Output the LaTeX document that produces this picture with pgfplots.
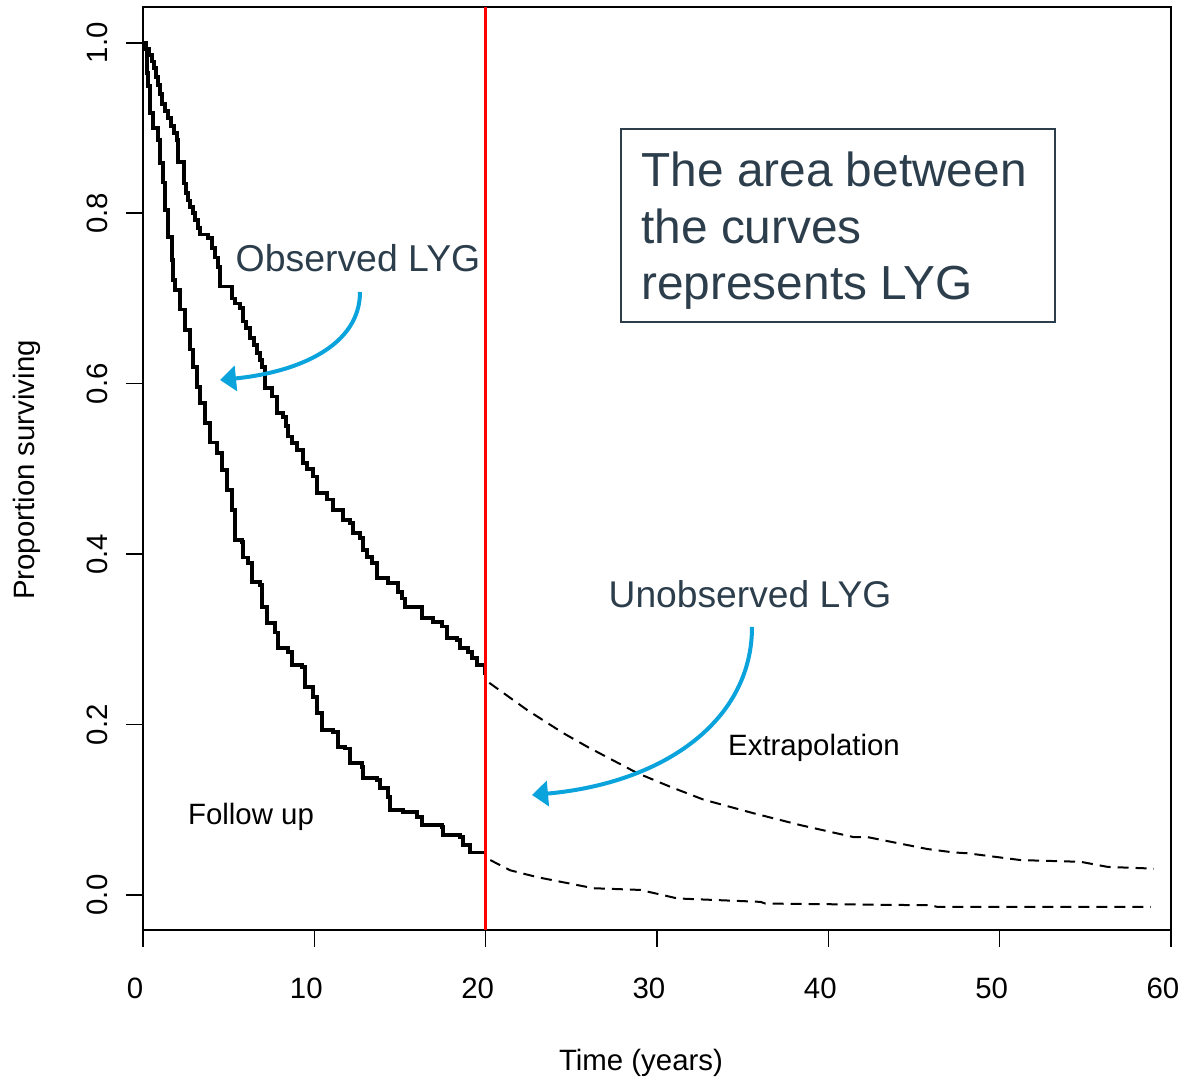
\documentclass[border=0pt]{standalone}
\usepackage{pgfplots}
\pgfplotsset{compat=1.18}
\usepackage{fontspec}
\setmainfont{Liberation Sans}
\usetikzlibrary{arrows.meta}
\definecolor{lygblue}{HTML}{0BA3DC}
\definecolor{slate}{HTML}{2C3E4C}

\pgfplotstableread{
t s
0 1.000
0.18 0.993
0.35 0.986
0.53 0.978
0.64 0.970
0.76 0.960
0.88 0.950
0.99 0.940
1.11 0.928
1.29 0.920
1.46 0.912
1.64 0.902
1.81 0.894
1.99 0.886
2.04 0.860
2.39 0.835
2.51 0.824
2.63 0.815
2.75 0.807
2.92 0.800
3.04 0.792
3.21 0.783
3.33 0.775
3.80 0.771
4.03 0.759
4.21 0.748
4.38 0.737
4.50 0.714
5.20 0.700
5.37 0.694
5.67 0.689
5.84 0.673
6.02 0.665
6.25 0.654
6.48 0.645
6.66 0.636
6.83 0.628
6.95 0.620
7.13 0.595
7.54 0.585
7.83 0.566
8.18 0.561
8.35 0.550
8.47 0.538
8.70 0.530
9.00 0.522
9.35 0.507
9.58 0.500
9.93 0.491
10.16 0.472
10.75 0.464
11.10 0.452
11.68 0.440
12.09 0.437
12.27 0.425
12.68 0.419
12.85 0.405
13.08 0.397
13.38 0.390
13.67 0.372
14.31 0.366
14.89 0.356
15.13 0.348
15.30 0.338
16.30 0.325
16.94 0.320
17.46 0.315
17.76 0.302
18.34 0.299
18.52 0.290
18.98 0.285
19.22 0.278
19.51 0.270
19.98 0.260
20.00 0.260
}\kmupper

\pgfplotstableread{
t s
0 1.000
0.12 0.992
0.23 0.965
0.29 0.949
0.41 0.918
0.58 0.900
0.88 0.886
1.00 0.859
1.17 0.836
1.29 0.804
1.46 0.772
1.69 0.745
1.75 0.722
1.87 0.710
2.16 0.687
2.45 0.663
2.75 0.640
2.92 0.620
3.15 0.596
3.33 0.577
3.62 0.554
3.91 0.531
4.32 0.519
4.61 0.499
4.91 0.475
5.20 0.452
5.37 0.417
5.78 0.414
5.84 0.396
6.13 0.390
6.37 0.367
6.83 0.364
6.95 0.338
7.24 0.319
7.71 0.308
7.89 0.290
8.47 0.285
8.70 0.270
9.29 0.268
9.46 0.244
9.93 0.232
10.16 0.214
10.46 0.194
11.10 0.191
11.39 0.174
11.80 0.172
12.09 0.155
12.79 0.150
12.85 0.137
13.67 0.135
13.84 0.126
14.31 0.115
14.43 0.100
15.19 0.097
16.00 0.092
16.30 0.082
17.46 0.080
17.52 0.070
18.52 0.068
18.69 0.059
19.10 0.050
20.00 0.050
}\kmlower

\pgfplotstableread{
t s
20.21 0.249
22.43 0.217
24.53 0.190
25.93 0.174
28.86 0.143
30.78 0.127
32.71 0.112
35.63 0.096
38.38 0.082
41.47 0.068
42.28 0.068
45.78 0.054
47.31 0.050
48.13 0.049
51.23 0.041
54.73 0.039
56.31 0.033
59.00 0.031
}\kmupperext

\pgfplotstableread{
t s
20.27 0.041
21.44 0.029
23.01 0.021
26.29 0.008
29.03 0.006
31.19 -0.004
36.04 -0.008
36.33 -0.010
45.97 -0.012
46.38 -0.014
58.82 -0.014
}\kmlowerext

\begin{document}
\begin{tikzpicture}
\begin{axis}[
  scale only axis,
  width=514pt, height=461.5pt,
  xmin=0, xmax=60, ymin=-0.041, ymax=1.042,
  xtick={0,10,...,60},
  ytick={0,0.2,...,1.0},
  tick pos=left,
  tick align=outside,
  major tick length=8.5pt,
  axis line style={line width=0.75pt},
  every tick/.style={line width=0.75pt, black},
  /pgf/number format/assume math mode=true,
  tick label style={font=\fontsize{14.7}{17}\selectfont},
  xticklabel style={anchor=center, yshift=-20.75pt, xshift=-4pt},
  yticklabel style={xshift=-14.5pt, rotate=90, anchor=center,
    /pgf/number format/.cd, fixed, fixed zerofill, precision=1},
]
\addplot[const plot, line width=1.9pt, black] table[x=t,y=s] {\kmupper};
\addplot[const plot, line width=1.9pt, black] table[x=t,y=s] {\kmlower};
\addplot[line width=1pt, black, dash pattern=on 5.5pt off 3.5pt] table[x=t,y=s] {\kmupperext};
\addplot[line width=1pt, black, dash pattern=on 5.5pt off 3.5pt] table[x=t,y=s] {\kmlowerext};
\addplot[line width=1.5pt, red] coordinates {(20,-0.041) (20,1.042)};
\end{axis}

% annotation arrows
\draw[lygblue, line width=2pt, -{Triangle[length=8pt,width=12.5pt]}]
  (108.5pt,319pt) .. controls (108.5pt,292.5pt) and (78.5pt,279pt) .. (38.5pt,275pt);
\draw[lygblue, line width=2pt, -{Triangle[length=8pt,width=12.5pt]}]
  (304.5pt,151.5pt) .. controls (304.5pt,105pt) and (261pt,73.5pt) .. (194.5pt,67.5pt);

% texts
\node[anchor=base, inner sep=0pt, text=slate, font=\fontsize{18.7}{22}\selectfont] at (107.5pt,329pt) {Observed LYG};
\node[anchor=base, inner sep=0pt, text=slate, font=\fontsize{18.6}{22}\selectfont] at (303.5pt,161pt) {Unobserved LYG};
\node[anchor=base, inner sep=0pt, font=\fontsize{14.7}{17}\selectfont] at (335.5pt,87pt) {Extrapolation};
\node[anchor=base, inner sep=0pt, font=\fontsize{14.7}{17}\selectfont] at (54pt,52.5pt) {Follow up};

\draw[slate, line width=0.8pt] (239pt,304pt) rectangle (456pt,400.5pt);
\node[anchor=base west, inner sep=0pt, text=slate, font=\fontsize{23.9}{28}\selectfont] at (249pt,371.5pt) {The area between};
\node[anchor=base west, inner sep=0pt, text=slate, font=\fontsize{23.9}{28}\selectfont] at (249pt,343pt) {the curves};
\node[anchor=base west, inner sep=0pt, text=slate, font=\fontsize{23.9}{28}\selectfont] at (249pt,315pt) {represents LYG};

% axis titles
\node[anchor=base, inner sep=0pt, font=\fontsize{14.7}{17}\selectfont] at (249pt,-70.5pt) {Time (years)};
\node[rotate=90, anchor=center, inner sep=0pt, font=\fontsize{14.7}{17}\selectfont] at (-58pt,230pt) {Proportion surviving};

\pgfresetboundingbox
\path (-71.5pt,-74.5pt) rectangle (520.5pt,465pt);
\end{tikzpicture}
\end{document}
